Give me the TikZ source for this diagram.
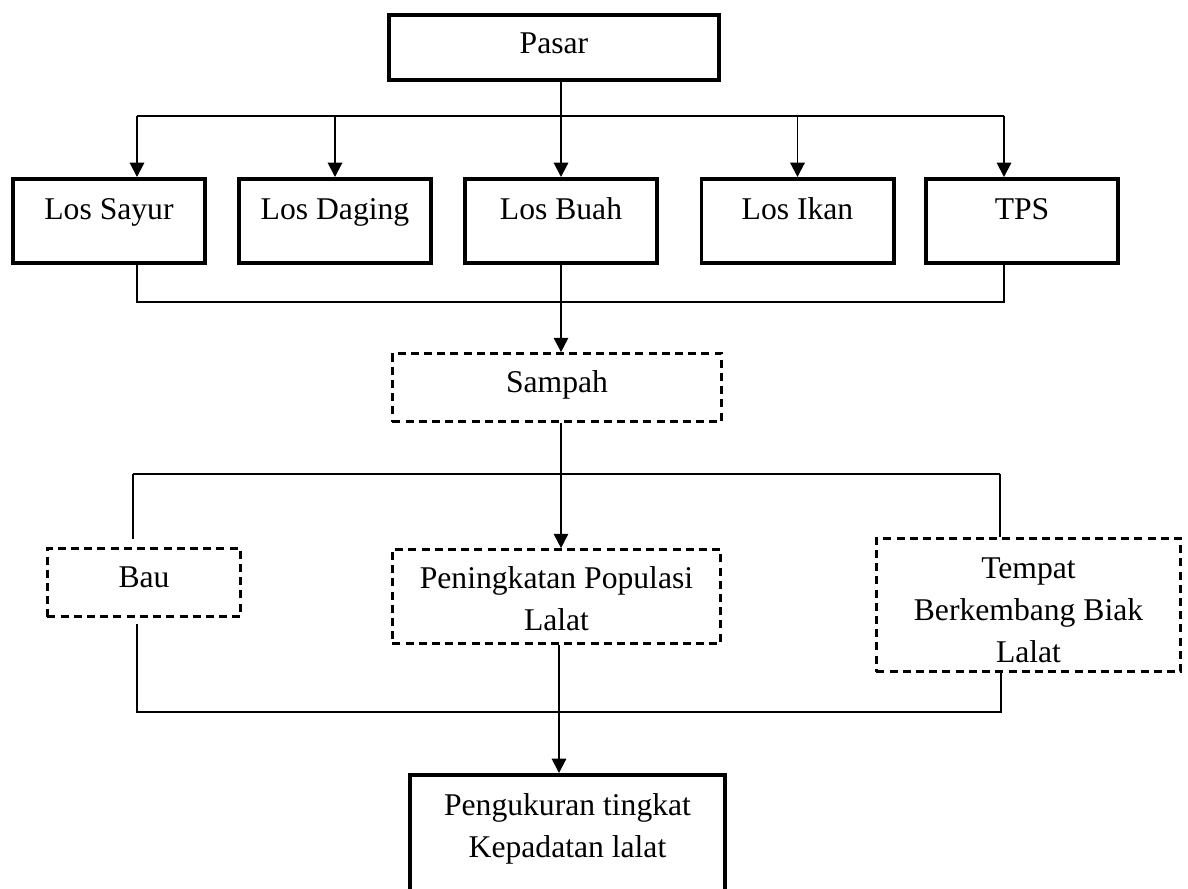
\documentclass[tikz,border=0pt]{standalone}
\usepackage{fontspec}
\setmainfont{Liberation Serif}
\usetikzlibrary{arrows.meta, positioning, calc}

\begin{document}
\begin{tikzpicture}[x=0.025cm, y=-0.025cm,
    font=\fontsize{22.5pt}{30pt}\selectfont,
    solidbox/.style={draw, line width=2.8pt, align=center, inner sep=0pt},
    dashbox/.style={draw, line width=1.9pt, dash pattern=on 0.2cm off 0.13cm, align=center, inner sep=0pt},
    losbox/.style={solidbox, minimum width=4.8cm, text height=1cm, text depth=1.1cm},
    line/.style={line width=1.4pt},
    arr/.style={line width=1.4pt, -{Triangle[width=0.36cm, length=0.36cm]}}]

    % page frame
    \useasboundingbox (0,0) rectangle (1188,888);

    % Pasar
    \node[solidbox, minimum width=8.25cm, text height=0.96cm, text depth=0.66cm] (pasar) at (554,47.5) {Pasar};

    % Los row
    \node[losbox] (sayur) at (109,221) {Los Sayur};
    \node[losbox] (daging) at (335,221) {Los Daging};
    \node[losbox] (buah) at (561,221) {Los Buah};
    \node[losbox] (ikan) at (797.5,221) {Los Ikan};
    \node[losbox] (tps) at (1022,221) {TPS};

    % Sampah
    \node[dashbox, minimum width=8.225cm, text height=0.975cm, text depth=0.725cm] (sampah) at (557,387.5) {Sampah};

    % lower row (text height counts up from the last line)
    \node[dashbox, minimum width=4.825cm, text height=0.975cm, text depth=0.725cm] (bau) at (144,582.5) {Bau};
    \node[dashbox, minimum width=8.2cm, text height=2.025cm, text depth=0.325cm] (naik) at (556.5,596.5) {Peningkatan Populasi\\Lalat};
    \node[dashbox, minimum width=7.6cm, text height=3.1cm, text depth=0.225cm] (tempat) at (1028.5,605) {Tempat\\Berkembang Biak\\Lalat};

    % Pengukuran
    \node[solidbox, minimum width=7.875cm, text height=2.0625cm, text depth=1.1875cm] (ukur) at (567.5,840) {Pengukuran tingkat\\Kepadatan lalat};

    % Pasar to Los row
    \coordinate (busA1) at (137,116);
    \coordinate (busA2) at (1004,116);
    \draw[line] (pasar.south -| buah.north) -- (buah.north |- busA1);
    \draw[line] (busA1) -- (busA2);
    \draw[arr] (busA1) -- (busA1 |- sayur.north);
    \draw[arr] (daging.north |- busA1) -- (daging.north);
    \draw[arr] (buah.north |- busA1) -- (buah.north);
    \draw[arr] (ikan.north |- busA1) -- (ikan.north);
    \draw[arr] (busA2) -- (busA2 |- tps.north);

    % Los row to Sampah
    \coordinate (busB1) at (137,302);
    \coordinate (busB2) at (1004,302);
    \draw[line] (busB1 |- sayur.south) -- (busB1) -- (busB2) -- (busB2 |- tps.south);
    \draw[arr] (buah.south) -- (buah.south |- sampah.north);

    % Sampah to lower row
    \coordinate (busC1) at (133,474);
    \coordinate (busC2) at (1000,474);
    \draw[line] (busC1) -- (busC2);
    \draw[line, shorten >=0.2cm] (busC1) -- (busC1 |- bau.north);
    \draw[line] (busC2) -- (busC2 |- tempat.north);
    \draw[arr] (buah.south |- sampah.south) -- (buah.south |- naik.north);

    % lower row to Pengukuran
    \coordinate (busD1) at (137,712);
    \coordinate (busD2) at (1001,712);
    \coordinate (midD) at (559,712);
    \draw[line, shorten <=0.15cm] (busD1 |- bau.south) -- (busD1) -- (busD2) -- (busD2 |- tempat.south);
    \draw[arr] (naik.south -| midD) -- (midD |- ukur.north);
\end{tikzpicture}
\end{document}
